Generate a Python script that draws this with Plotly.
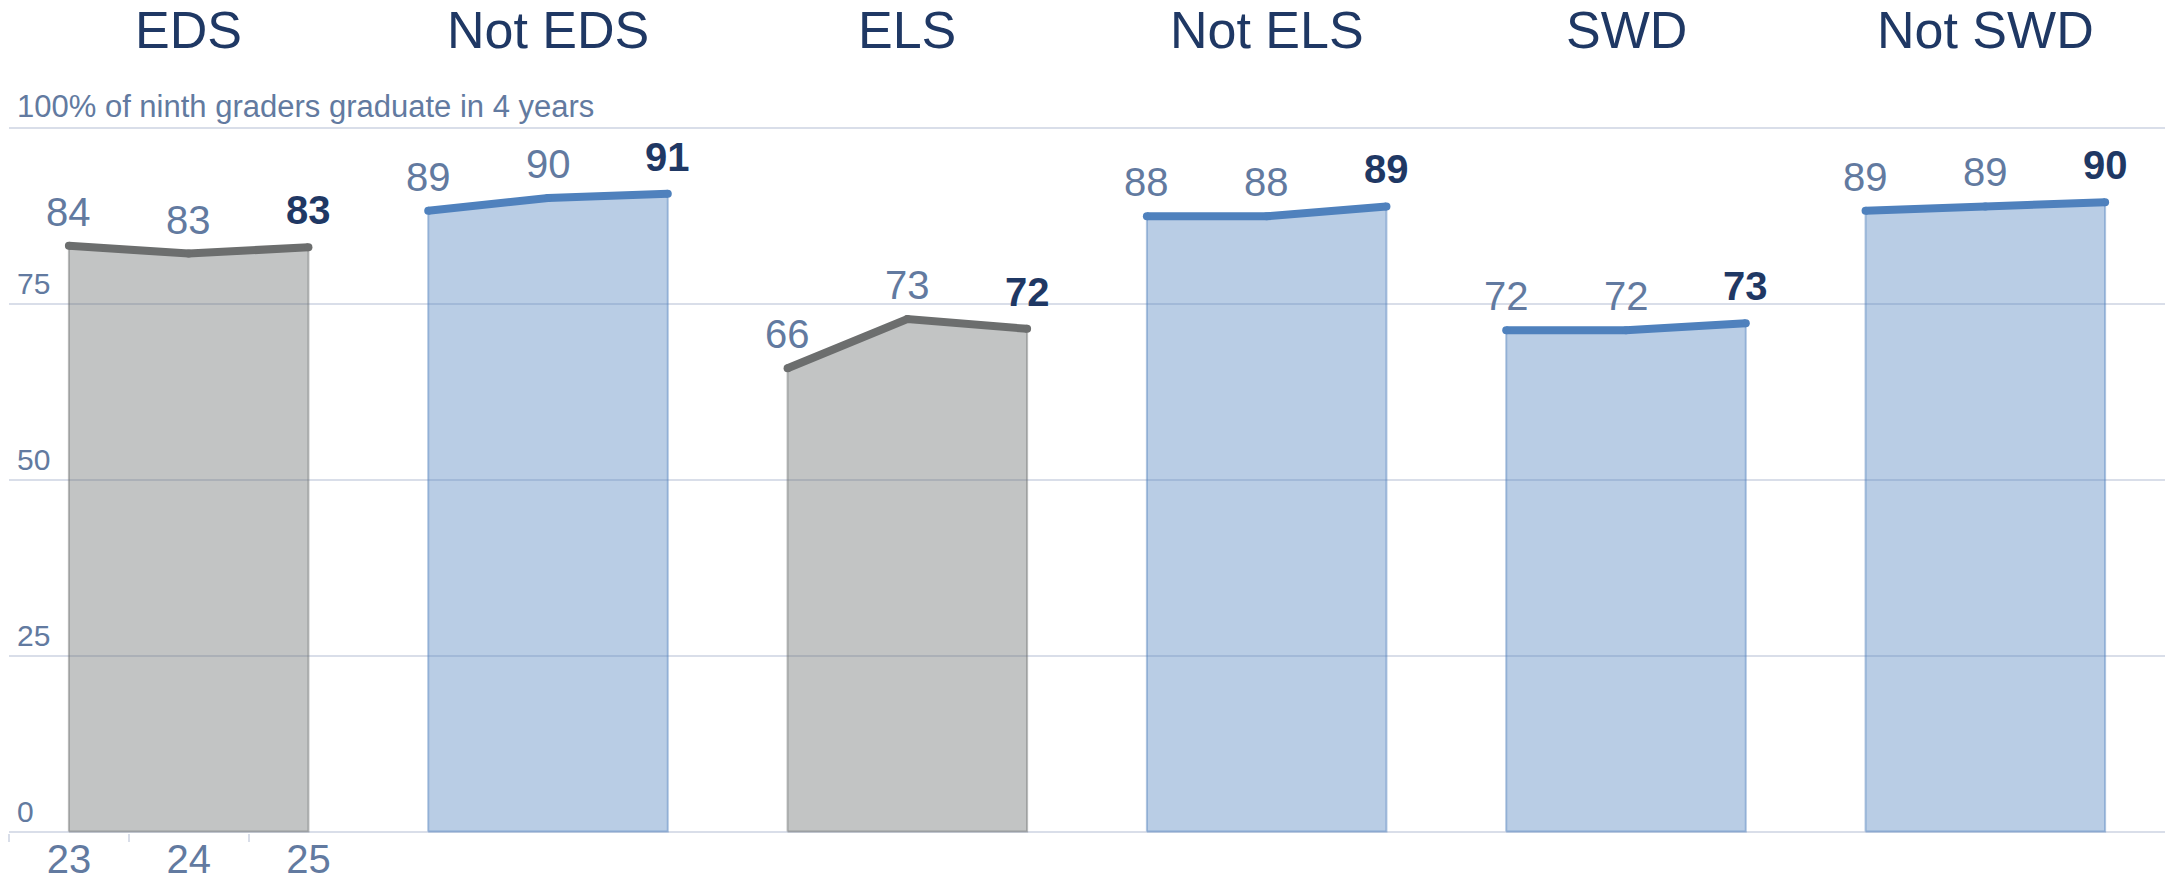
import plotly.graph_objects as go

groups = ["EDS", "Not EDS", "ELS", "Not ELS", "SWD", "Not SWD"]
years = ["23", "24", "25"]
grad_rate = {
    "EDS": [83.3, 82.2, 83.1],
    "Not EDS": [88.3, 90.1, 90.7],
    "ELS": [65.9, 72.9, 71.5],
    "Not ELS": [87.5, 87.5, 88.9],
    "SWD": [71.3, 71.3, 72.3],
    "Not SWD": [88.3, 88.9, 89.5],
}
rate_labels = {
    "EDS": ["84", "83", "83"],
    "Not EDS": ["89", "90", "91"],
    "ELS": ["66", "73", "72"],
    "Not ELS": ["88", "88", "89"],
    "SWD": ["72", "72", "73"],
    "Not SWD": ["89", "89", "90"],
}
gray_groups = ["EDS", "ELS"]
y_ticks = [0, 25, 50, 75]
y_top_label = "100% of ninth graders graduate in 4 years"

FONT = "Liberation Sans, Arial, sans-serif"
NAVY = "#1F3864"
SLATE = "#627AA0"
GRID = "#D9DEE9"

fig = go.Figure()
annotations = []

for gi, g in enumerate(groups):
    vals = grad_rate[g]
    xs = [gi * 3 + j for j in range(len(vals))]
    if g in gray_groups:
        fill = "rgba(108,112,112,0.41)"
        edge = "rgba(108,110,110,0.45)"
        line = "#6C6E6E"
    else:
        fill = "rgba(79,129,189,0.40)"
        edge = "rgba(79,129,189,0.45)"
        line = "#4F81BD"
    # area polygon
    px = [xs[0]] + xs + [xs[-1], xs[0]]
    py = [0] + vals + [0, 0]
    fig.add_trace(go.Scatter(x=px, y=py, mode="lines", fill="toself",
                             fillcolor=fill, line=dict(color=edge, width=2),
                             hoverinfo="skip", showlegend=False))
    # thick line
    fig.add_trace(go.Scatter(x=xs, y=vals, mode="lines+markers",
                             line=dict(color=line, width=8),
                             marker=dict(color=line, size=8),
                             showlegend=False, cliponaxis=False))
    # labels
    for j, (x, v) in enumerate(zip(xs, vals)):
        last = j == len(vals) - 1
        annotations.append(dict(
            x=x, y=v, xref="x", yref="y", text=rate_labels[g][j],
            showarrow=False, yanchor="bottom", xanchor="center",
            yshift=13 if last else 10,
            font=dict(family=FONT, size=40, color=NAVY if last else SLATE,
                      weight="bold" if last else "normal")))
    # group title
    annotations.append(dict(
        x=xs[1], y=1, xref="x", yref="paper", text=g, showarrow=False,
        yanchor="bottom", xanchor="center", yshift=66,
        font=dict(family=FONT, size=52, color=NAVY)))

for t in y_ticks:
    annotations.append(dict(
        x=0, y=t, xref="paper", yref="y", text=str(t), showarrow=False,
        xanchor="left", yanchor="bottom", xshift=6, yshift=2,
        font=dict(family=FONT, size=30, color=SLATE)))
annotations.append(dict(
    x=0, y=100, xref="paper", yref="y", text=y_top_label, showarrow=False,
    xanchor="left", yanchor="bottom", xshift=6, yshift=2,
    font=dict(family=FONT, size=31, color=SLATE)))

fig.update_layout(
    template="none",
    width=2165, height=882,
    margin=dict(l=9, r=0, t=126.6, b=48.6, autoexpand=False),
    paper_bgcolor="white", plot_bgcolor="white",
    annotations=annotations,
    xaxis=dict(range=[-0.5, 17.5], tickvals=[-0.5, 0.5, 1.5], ticktext=years,
               ticks="outside", ticklen=8, tickwidth=2, tickcolor=GRID,
               ticklabelshift=60, ticklabelstandoff=-17, automargin=False,
               tickfont=dict(family=FONT, size=40, color=SLATE),
               showgrid=False, zeroline=False, showline=False),
    yaxis=dict(range=[-0.2, 100.2], tickvals=[0, 25, 50, 75, 100],
               showticklabels=False, showgrid=True, gridcolor=GRID,
               gridwidth=2, zeroline=False, showline=False, automargin=False),
)

fig.write_html("out.html",
               config={"displayModeBar": False},
               post_script="document.body.style.margin='0';"
                           "document.body.style.overflow='hidden';")
